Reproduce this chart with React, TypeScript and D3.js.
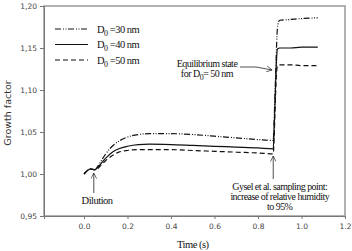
import * as d3 from "d3";
import { useEffect, useRef } from "react";

const times = [0, 0.015, 0.03, 0.05, 0.06, 0.08, 0.1, 0.13, 0.16, 0.2, 0.25, 0.3, 0.4, 0.5, 0.6, 0.7, 0.8, 0.87, 0.875, 0.88, 0.885, 0.89, 0.9, 0.95, 1.0, 1.075];
const d30 = [1.0, 1.004, 1.006, 1.005, 1.008, 1.016, 1.024, 1.033, 1.039, 1.044, 1.047, 1.048, 1.048, 1.047, 1.045, 1.043, 1.041, 1.04, 1.07, 1.11, 1.15, 1.176, 1.183, 1.184, 1.185, 1.186];
const d40 = [1.0, 1.004, 1.006, 1.005, 1.007, 1.013, 1.019, 1.026, 1.03, 1.033, 1.035, 1.0355, 1.035, 1.034, 1.033, 1.032, 1.031, 1.03, 1.06, 1.1, 1.135, 1.149, 1.15, 1.15, 1.151, 1.151];
const d50 = [1.0, 1.004, 1.006, 1.005, 1.006, 1.011, 1.016, 1.022, 1.026, 1.028, 1.029, 1.029, 1.029, 1.028, 1.027, 1.026, 1.025, 1.024, 1.05, 1.09, 1.12, 1.129, 1.13, 1.13, 1.129, 1.129];
const seriesNames = ["30", "40", "50"];
const yTicks = [0.95, 1.0, 1.05, 1.1, 1.15, 1.2];
const xTicks = [0, 0.2, 0.4, 0.6, 0.8, 1.0, 1.2];

const dashes = ["6,2,1,1.5,1,1.5", "", "5,3"];
const serif = "'Liberation Serif', serif";
const sans = "'DejaVu Sans', sans-serif";

export default function App() {
  const width = 352;
  const height = 251;
  const margin = { top: 6, right: 7, bottom: 35, left: 44 };
  const iw = width - margin.left - margin.right;
  const ih = height - margin.top - margin.bottom;

  const x = d3.scaleLinear().domain([-0.184, 1.2]).range([0, iw]);
  const y = d3.scaleLinear().domain([0.95, 1.2]).range([ih, 0]);

  const series = [d30, d40, d50];
  const line = d3
    .line<number>()
    .x((_, i) => x(times[i]))
    .y((v) => y(v))
    .curve(d3.curveMonotoneX);

  const tx = (t: number) => x(t);

  return (
    <svg width={width} height={height} style={{ position: "absolute", left: 0, top: 0 }}>
      <defs>
        <marker id="arr" viewBox="0 0 10 10" refX="10" refY="5" markerWidth="7" markerHeight="7" orient="auto-start-reverse">
          <path d="M0,0 L10,5 L0,10" fill="none" stroke="#222" strokeWidth="1.2" />
        </marker>
      </defs>
      <g transform={`translate(${margin.left},${margin.top})`}>
        <rect x={0} y={0} width={iw} height={ih} fill="white" stroke="#999" strokeWidth={1.5} />
        <AxisLeft scale={y} />
        <AxisBottom scale={x} transform={`translate(0,${ih})`} />

        {series.map((s, i) => (
          <path key={seriesNames[i]} d={line(s) ?? ""} fill="none" stroke="#111" strokeWidth={1.2} strokeDasharray={dashes[i]} />
        ))}

        {/* legend */}
        {seriesNames.map((n, i) => (
          <g key={`lg-${n}`} transform={`translate(11,${23 + i * 15.5})`}>
            <line x1={0} x2={33} y1={0} y2={0} stroke="#111" strokeWidth={1.2} strokeDasharray={dashes[i]} />
            <text x={42} y={3.5} fontFamily={serif} fontSize={10.5} letterSpacing={-0.5} fill="#111">
              D<tspan fontSize={8} dy={3}>0</tspan>
              <tspan dy={-3}> =</tspan>
              {n} nm
            </text>
          </g>
        ))}

        {/* Equilibrium annotation */}
        <text x={163} y={61} textAnchor="middle" fontFamily={serif} fontSize={10} letterSpacing={-0.5} fill="#111">
          Equilibrium state
        </text>
        <text x={163} y={71} textAnchor="middle" fontFamily={serif} fontSize={10} letterSpacing={-0.5} fill="#111">
          for D<tspan fontSize={8} dy={2.5}>0</tspan>
          <tspan dy={-2.5}>= 50 nm</tspan>
        </text>
        <polyline points={`196,61 212,61 ${tx(0.87) - 1},64`} fill="none" stroke="#222" strokeWidth={0.8} markerEnd="url(#arr)" />

        {/* Dilution annotation */}
        <line x1={tx(0.045)} x2={tx(0.045)} y1={187} y2={167} stroke="#222" strokeWidth={0.8} markerEnd="url(#arr)" />
        <text x={tx(0.06)} y={198} textAnchor="middle" fontFamily={serif} fontSize={10.5} letterSpacing={-0.5} fill="#111">
          Dilution
        </text>

        {/* Gysel annotation */}
        <line x1={tx(0.87)} x2={tx(0.87)} y1={173} y2={150} stroke="#222" strokeWidth={0.8} markerEnd="url(#arr)" />
        {["Gysel et al. sampling point:", "increase of relative humidity", "to 95%"].map((t, i) => (
          <text key={t} x={tx(0.9)} y={184 + i * 10} textAnchor="middle" fontFamily={serif} fontSize={10} letterSpacing={-0.55} fill="#111">
            {t}
          </text>
        ))}

        <text transform={`translate(-33,${ih / 2 + 2}) rotate(-90)`} textAnchor="middle" fontFamily={sans} fontSize={9.5} fill="#333">
          Growth factor
        </text>
        <text x={tx(0.5)} y={ih + 32} textAnchor="middle" fontFamily={serif} fontSize={10.5} letterSpacing={-0.5} fill="#111">
          Time (s)
        </text>
      </g>
    </svg>
  );
}

function AxisLeft({ scale }: { scale: d3.ScaleLinear<number, number> }) {
  const ref = useRef<SVGGElement>(null);
  useEffect(() => {
    if (ref.current) {
      const g = d3.select(ref.current);
      g.call(
        d3
          .axisLeft(scale)
          .tickValues(yTicks)
          .tickSize(4)
          .tickPadding(3)
          .tickFormat((d) => d3.format(".2f")(d as number).replace(".", ","))
      );
      g.select(".domain").attr("stroke", "#777");
      g.selectAll(".tick line").attr("stroke", "#777");
      g.selectAll(".tick text").attr("fill", "#444").attr("font-family", sans).attr("font-size", 7.5);
    }
  }, [scale]);
  return <g ref={ref} />;
}

function AxisBottom({ scale, transform }: { scale: d3.ScaleLinear<number, number>; transform: string }) {
  const ref = useRef<SVGGElement>(null);
  useEffect(() => {
    if (ref.current) {
      const g = d3.select(ref.current);
      g.call(d3.axisBottom(scale).tickValues(xTicks).tickSize(3).tickPadding(5).tickFormat(d3.format(".1f")));
      g.select(".domain").attr("stroke", "#777");
      g.selectAll(".tick line").attr("stroke", "#777");
      g.selectAll(".tick text").attr("fill", "#444").attr("font-family", sans).attr("font-size", 7.5);
    }
  }, [scale]);
  return <g ref={ref} transform={transform} />;
}
